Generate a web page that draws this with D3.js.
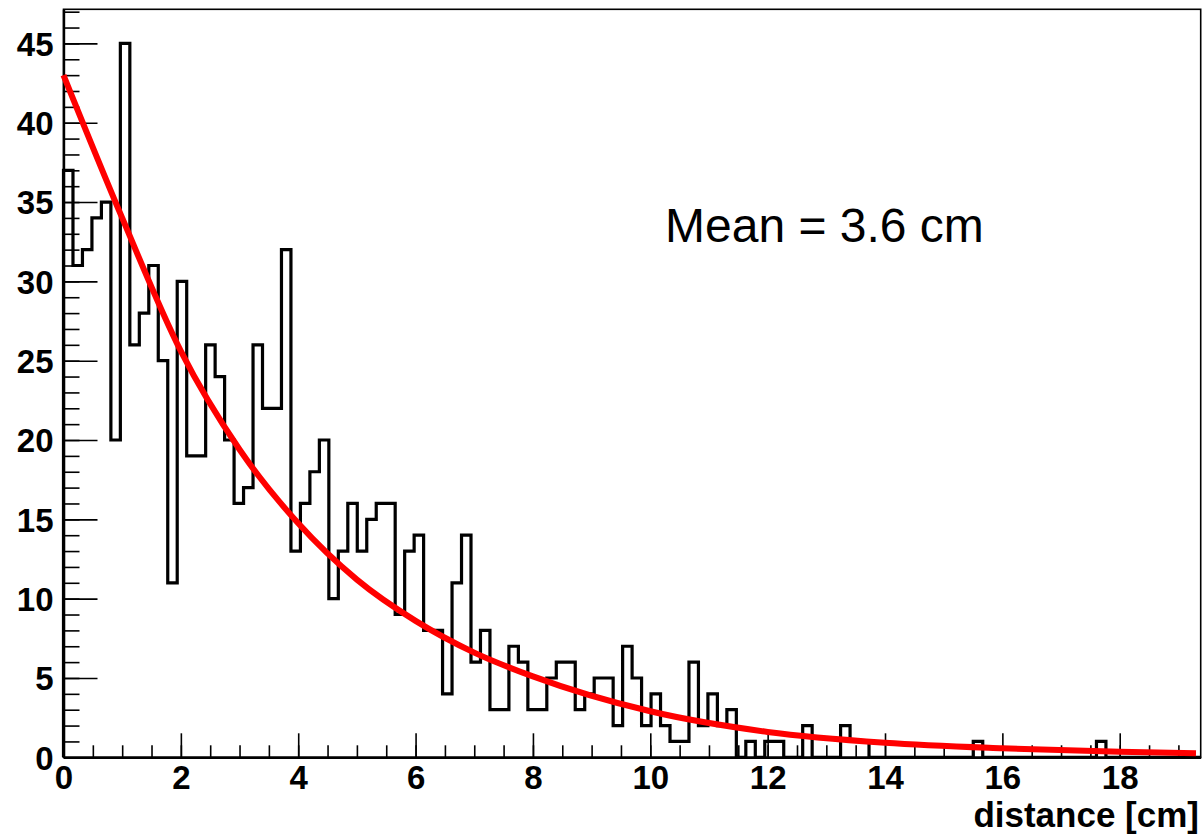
<!DOCTYPE html>
<html>
<head>
<meta charset="utf-8">
<script src="https://cdn.jsdelivr.net/npm/d3@7"></script>
<style>
  body { margin: 0; background: #fff; }
  svg { display: block; }
</style>
</head>
<body>
<svg id="chart"></svg>
<script>
// histogram binning
var xMin = 0
var xMax = 19.38
var nBins = 120
var yMax = 47.15

// counts per bin, left to right
var binCounts = [
  37, 31, 32, 34, 35, 20, 45, 26, 28, 31,
  25, 11, 30, 19, 19, 26, 24, 20, 16, 17,
  26, 22, 22, 32, 13, 16, 18, 20, 10, 13,
  16, 13, 15, 16, 16, 9, 13, 14, 8, 8,
  4, 11, 14, 6, 8, 3, 3, 7, 6, 3,
  3, 5, 6, 6, 3, 4, 5, 5, 2, 7,
  5, 2, 4, 2, 1, 1, 6, 2, 4, 2,
  3, 0, 1, 0, 1, 1, 0, 0, 2, 0,
  0, 0, 2, 1, 1, 0, 0, 0, 0, 0,
  0, 0, 0, 0, 0, 0, 1, 0, 0, 0,
  0, 0, 0, 0, 0, 0, 0, 0, 0, 1,
  0, 0, 0, 0, 0, 0, 0, 0, 0, 0
]

// red fit curve
var fitX = [0, 1, 2, 3, 4, 5, 6, 7, 8, 10, 12, 14, 16, 18, 19.3]
var fitY = [43.0, 34.0, 25.6, 19.4, 14.75, 11.2, 8.6, 6.6, 5.1, 2.9, 1.6, 0.92, 0.57, 0.35, 0.25]

var xTicks = [0, 2, 4, 6, 8, 10, 12, 14, 16, 18]
var yTicks = [0, 5, 10, 15, 20, 25, 30, 35, 40, 45]

var xTitle = "distance [cm]"
var note = "Mean = 3.6 cm"

var screen = {width: 1204, height: 839}
var plot = {left: 63.5, right: 1200.7, top: 9.3, bottom: 757.3}
var font = "'Liberation Sans', Arial, Helvetica, sans-serif"

var svg = d3.select("#chart")
  .attr("width", screen.width)
  .attr("height", screen.height)

svg.append("rect")
  .attr("width", screen.width)
  .attr("height", screen.height)
  .attr("fill", "#fff")

var xScale = d3.scaleLinear().domain([xMin, xMax]).range([plot.left, plot.right])
var yScale = d3.scaleLinear().domain([0, yMax]).range([plot.bottom, plot.top])

// frame
svg.append("rect")
  .attr("x", plot.left)
  .attr("y", plot.top)
  .attr("width", plot.right - plot.left)
  .attr("height", plot.bottom - plot.top)
  .attr("fill", "none")
  .attr("stroke", "#000")
  .attr("stroke-width", 1.6)

// minor ticks first (no labels)
var xMinor = d3.range(0, 19.01, 0.5)
var yMinor = d3.range(0, 47.01, 1)

svg.append("g")
  .attr("transform", "translate(0," + plot.bottom + ")")
  .call(d3.axisBottom(xScale).tickValues(xMinor).tickSizeInner(-12).tickSizeOuter(0).tickFormat(""))
  .call(function(g) { g.select(".domain").remove() })

svg.append("g")
  .attr("transform", "translate(" + plot.left + ",0)")
  .call(d3.axisLeft(yScale).tickValues(yMinor).tickSizeInner(-16).tickSizeOuter(0).tickFormat(""))
  .call(function(g) { g.select(".domain").remove() })

// major ticks + labels
var xAxis = svg.append("g")
  .attr("transform", "translate(0," + plot.bottom + ")")
  .call(d3.axisBottom(xScale).tickValues(xTicks).tickSizeInner(-24).tickSizeOuter(0).tickPadding(8))

var yAxis = svg.append("g")
  .attr("transform", "translate(" + plot.left + ",0)")
  .call(d3.axisLeft(yScale).tickValues(yTicks).tickSizeInner(-34).tickSizeOuter(0).tickPadding(10))

svg.selectAll(".tick line")
  .attr("stroke", "#000")
  .attr("stroke-width", 1.6)

xAxis.select(".domain").attr("stroke", "#000").attr("stroke-width", 2.4)
yAxis.select(".domain").attr("stroke", "#000").attr("stroke-width", 2.4)

xAxis.selectAll("text")
  .attr("font-family", font)
  .attr("font-weight", "bold")
  .attr("font-size", 33)
  .attr("fill", "#000")

yAxis.selectAll("text")
  .attr("font-family", font)
  .attr("font-weight", "bold")
  .attr("font-size", 33)
  .attr("fill", "#000")
  .attr("dy", "0.36em")

// histogram outline
var steps = binCounts.map(function(c, i) {
  return [xMin + i * (xMax - xMin) / nBins, c]
})
steps.unshift([xMin, 0])
steps.push([xMax, binCounts[binCounts.length - 1]])
steps.push([xMax, 0])

var stepLine = d3.line()
  .x(function(d) { return xScale(d[0]) })
  .y(function(d) { return yScale(d[1]) })
  .curve(d3.curveStepAfter)

svg.append("path")
  .datum(steps)
  .attr("d", stepLine)
  .attr("fill", "none")
  .attr("stroke", "#000")
  .attr("stroke-width", 3.2)
  .attr("stroke-linejoin", "miter")

// fit curve
var fitPts = fitX.map(function(x, i) { return [x, fitY[i]] })
var fitLine = d3.line()
  .x(function(d) { return xScale(d[0]) })
  .y(function(d) { return yScale(d[1]) })
  .curve(d3.curveMonotoneX)

svg.append("path")
  .datum(fitPts)
  .attr("d", fitLine)
  .attr("fill", "none")
  .attr("stroke", "#ff0000")
  .attr("stroke-width", 6)

// axis title
svg.append("text")
  .attr("x", 1199)
  .attr("y", 827)
  .attr("text-anchor", "end")
  .attr("font-family", font)
  .attr("font-weight", "bold")
  .attr("font-size", 35)
  .attr("fill", "#000")
  .text(xTitle)

// annotation
svg.append("text")
  .attr("x", 665)
  .attr("y", 242)
  .attr("font-family", font)
  .attr("font-size", 48)
  .attr("fill", "#000")
  .text(note)
</script>
</body>
</html>
